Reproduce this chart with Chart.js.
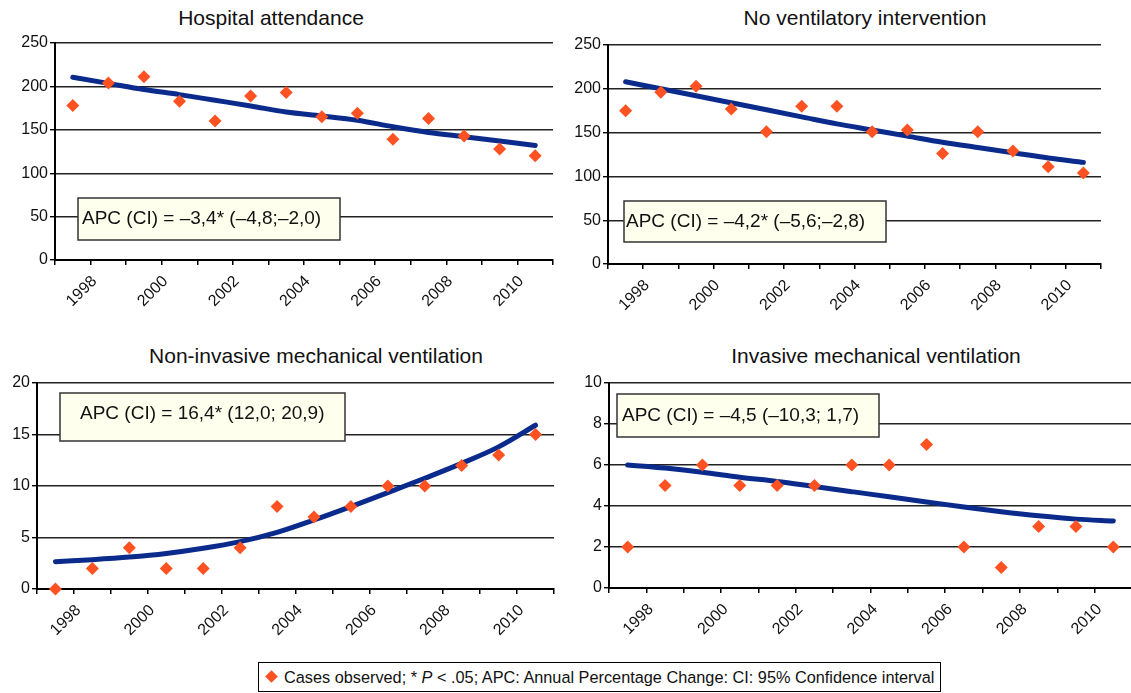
<!DOCTYPE html>
<html>
<head>
<meta charset="utf-8">
<script src="https://cdn.jsdelivr.net/npm/chart.js@4.4.1/dist/chart.umd.min.js"></script>
<style>
    html, body { margin: 0; padding: 0; background: #fff; overflow: hidden; }
    body { width: 1131px; height: 693px; position: relative; font-family: "Liberation Sans", Arial, sans-serif; color: #111; }
    .painel { position: absolute; }
    .titulo { position: absolute; font-size: 21px; line-height: 21px; white-space: nowrap; transform: translateX(-50%); }
    .legenda {
        position: absolute; left: 258px; top: 662px; width: 681px; height: 28px;
        border: 1px solid #000; font-size: 16.3px; line-height: 28px; white-space: nowrap;
    }
    .legenda .losango {
        position: absolute; left: 8px; top: 9px; width: 9px; height: 9px;
        background: #FF5222; transform: rotate(45deg);
    }
    .legenda span.txt { position: absolute; left: 25px; top: 0; }
</style>
</head>
<body>

<div class="titulo" style="left:271px;top:7px">Hospital attendance</div>
<div class="titulo" style="left:865px;top:7px">No ventilatory intervention</div>
<div class="titulo" style="left:316px;top:345px">Non-invasive mechanical ventilation</div>
<div class="titulo" style="left:876px;top:345px">Invasive mechanical ventilation</div>

<div class="painel" style="left:0;top:0;width:565px;height:330px"><canvas id="c1"></canvas></div>
<div class="painel" style="left:565px;top:0;width:566px;height:330px"><canvas id="c2"></canvas></div>
<div class="painel" style="left:0;top:340px;width:565px;height:320px"><canvas id="c3"></canvas></div>
<div class="painel" style="left:565px;top:340px;width:575px;height:320px"><canvas id="c4"></canvas></div>

<div class="legenda"><span class="losango"></span><span class="txt">Cases observed; * <i>P</i> &lt; .05; APC: Annual Percentage Change: CI: 95% Confidence interval</span></div>

<script>
// anos observados
const anos = ['1997', '1998', '1999', '2000', '2001', '2002', '2003', '2004', '2005', '2006', '2007', '2008', '2009', '2010'];

// Hospital attendance
const atendimento = [178, 204, 211, 183, 160, 189, 193, 165, 169, 139, 163, 143, 128, 120];
const atendimentoTendencia = [210.5, 203.5, 196.5, 190.5, 184, 177.5, 170.5, 166, 161, 153.5, 147, 142, 137, 132];

// No ventilatory intervention
const semVentilacao = [175, 196, 203, 177, 151, 180, 180, 151, 153, 126, 151, 129, 111, 104];
const semVentilacaoTendencia = [208, 200, 192, 184, 176, 168, 160, 153, 146, 139, 133, 127, 121, 116];

// Non-invasive mechanical ventilation
const naoInvasiva = [0, 2, 4, 2, 2, 4, 8, 7, 8, 10, 10, 12, 13, 15];
const naoInvasivaTendencia = [2.65, 2.85, 3.1, 3.45, 3.95, 4.6, 5.5, 6.7, 8.0, 9.35, 10.75, 12.2, 13.8, 15.9];

// Invasive mechanical ventilation
const invasiva = [2, 5, 6, 5, 5, 5, 6, 6, 7, 2, 1, 3, 3, 2];
const invasivaTendencia = [6.0, 5.85, 5.65, 5.4, 5.2, 4.95, 4.7, 4.45, 4.2, 3.95, 3.72, 3.52, 3.36, 3.27];

// eixos y
const eixoAtendimento = { min: 0, max: 250, passo: 50 };
const eixoNaoInvasiva = { min: 0, max: 20, passo: 5 };
const eixoInvasiva = { min: 0, max: 10, passo: 2 };

const FONTE = '"Liberation Sans", Arial, sans-serif';
const COR_PONTO = '#FF5222';
const COR_LINHA = '#0B2B8C';

// Caixa com o APC desenhada por cima dos dados
const caixaApc = {
    id: 'caixaApc',
    afterDatasetsDraw(chart, args, o) {
        const { ctx, chartArea: a } = chart;
        const x = a.left + o.x, y = a.top + o.y;
        ctx.save();
        ctx.fillStyle = '#FFFFEE';
        ctx.fillRect(x, y, o.w, o.h);
        ctx.strokeStyle = '#333';
        ctx.lineWidth = 1.5;
        ctx.strokeRect(x, y, o.w, o.h);
        ctx.fillStyle = '#111';
        ctx.font = '19px ' + FONTE;
        ctx.textBaseline = 'middle';
        ctx.fillText(o.texto, x + o.recuo, y + o.h / 2 + (o.dy || 0));
        ctx.restore();
    },
};

function grafico(id, obs, tend, eixo, yLargura, pad, caixa) {
    return new Chart(document.getElementById(id), {
        type: 'line',
        data: {
            labels: anos,
            datasets: [
                {
                    label: 'Cases observed',
                    data: obs,
                    showLine: false,
                    pointStyle: 'rectRot',
                    pointRadius: 6.5,
                    pointBackgroundColor: COR_PONTO,
                    pointBorderColor: COR_PONTO,
                    pointBorderWidth: 0,
                    clip: false,
                    order: 0,
                },
                {
                    label: 'APC',
                    data: tend,
                    borderColor: COR_LINHA,
                    borderWidth: 5,
                    borderCapStyle: 'round',
                    pointRadius: 0,
                    cubicInterpolationMode: 'monotone',
                    fill: false,
                    clip: false,
                    order: 1,
                },
            ],
        },
        options: {
            responsive: true,
            maintainAspectRatio: false,
            animation: false,
            layout: { padding: pad },
            plugins: {
                legend: { display: false },
                tooltip: { enabled: false },
                caixaApc: caixa,
            },
            scales: {
                x: {
                    offset: true,
                    grid: { offset: true, drawOnChartArea: false, drawTicks: true, tickLength: 5, color: '#000', lineWidth: 1.5 },
                    border: { color: '#000', width: 2 },
                    ticks: {
                        autoSkip: false,
                        minRotation: 45, maxRotation: 45,
                        color: '#111',
                        font: { family: FONTE, size: 16 },
                        padding: 7,
                        labelOffset: -14,
                        callback: (v, i) => (Number(anos[i]) % 2 === 0 ? anos[i] : ''),
                    },
                    afterFit: (s) => { s.height = 50; },
                },
                y: {
                    min: eixo.min, max: eixo.max,
                    grid: { color: '#222', lineWidth: 1.4, tickLength: 5, tickColor: '#000' },
                    border: { color: '#000', width: 2 },
                    ticks: { stepSize: eixo.passo, color: '#111', font: { family: FONTE, size: 16 }, padding: 2 },
                    afterFit: (s) => { s.width = yLargura; },
                },
            },
        },
        plugins: [caixaApc],
    });
}

grafico('c1', atendimento, atendimentoTendencia, eixoAtendimento, 55,
    { top: 43, right: 12, bottom: 20, left: 0 },
    { texto: 'APC (CI) = –3,4* (–4,8;–2,0)', x: 23, y: 155, w: 262, h: 42, recuo: 4 });

grafico('c2', semVentilacao, semVentilacaoTendencia, eixoAtendimento, 43,
    { top: 45, right: 30, bottom: 16, left: 0 },
    { texto: 'APC (CI) = –4,2* (–5,6;–2,8)', x: 16, y: 156, w: 262, h: 41, recuo: 2 });

grafico('c3', naoInvasiva, naoInvasivaTendencia, eixoNaoInvasiva, 37,
    { top: 43, right: 11, bottom: 21, left: 0 },
    { texto: 'APC (CI) = 16,4* (12,0; 20,9)', x: 23, y: 10, w: 285, h: 48, recuo: 20, dy: -3 });

grafico('c4', invasiva, invasivaTendencia, eixoInvasiva, 44,
    { top: 43, right: 8, bottom: 22, left: 0 },
    { texto: 'APC (CI) = –4,5 (–10,3; 1,7)', x: 8, y: 11, w: 262, h: 43, recuo: 5 });
</script>
</body>
</html>
